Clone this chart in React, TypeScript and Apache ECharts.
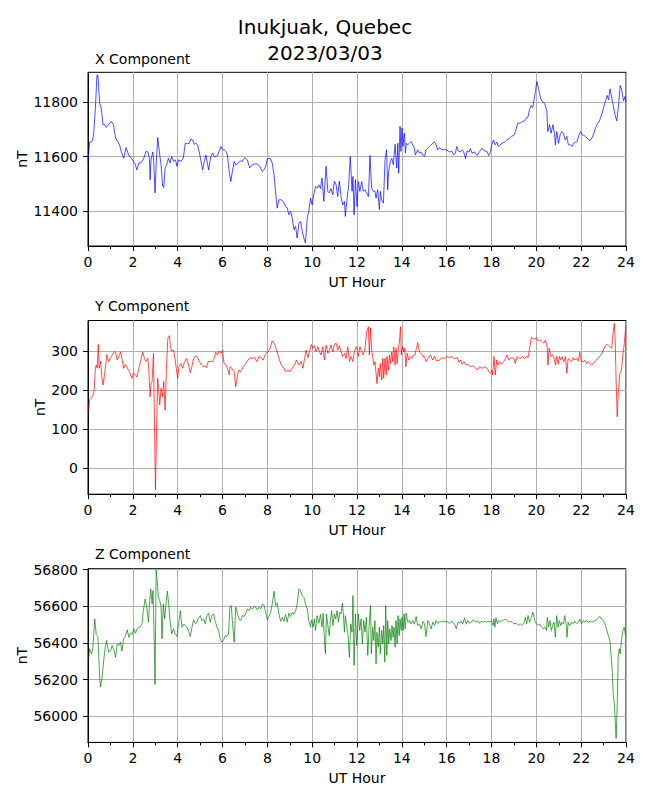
import React, { useEffect, useRef } from "react";
import * as echarts from "echarts";

const FONT = "DejaVu Sans";

const stationTitle = "Inukjuak, Quebec";
const dateTitle = "2023/03/03";
const panelTitles = ["X Component", "Y Component", "Z Component"];
const xAxisName = "UT Hour";
const yAxisName = "nT";
const hourTicks = [0, 2, 4, 6, 8, 10, 12, 14, 16, 18, 20, 22, 24];
const xTicks = [11400, 11600, 11800];
const yTicks = [0, 100, 200, 300];
const zTicks = [56000, 56200, 56400, 56600, 56800];
const xRange = [11271, 11910];
const yRange = [-66, 378];
const zRange = [55857, 56805];

// [UT hour, nT]
const xComponent: number[][] = [
  [0.00,11582],[0.07,11653],[0.18,11655],[0.25,11680],[0.33,11778],[0.40,11900],[0.44,11900],[0.52,11796],[0.59,11778],[0.67,11717],[0.74,11719],[0.81,11707],[0.92,11717],[1.04,11729],[1.14,11717],[1.23,11668],[1.33,11655],[1.41,11643],[1.48,11619],[1.59,11594],[1.70,11633],[1.81,11606],[1.93,11594],[2.03,11582],[2.10,11573],[2.18,11551],[2.27,11576],[2.37,11578],[2.49,11594],[2.59,11619],[2.67,11617],[2.74,11594],[2.77,11515],[2.81,11588],[2.89,11617],[2.93,11582],[2.99,11466],[3.04,11570],[3.11,11670],[3.19,11613],[3.26,11570],[3.33,11490],[3.38,11486],[3.44,11558],[3.51,11570],[3.59,11594],[3.66,11576],[3.73,11600],[3.82,11582],[3.90,11588],[3.97,11564],[4.04,11588],[4.15,11582],[4.25,11594],[4.34,11649],[4.44,11647],[4.52,11649],[4.59,11665],[4.67,11661],[4.74,11645],[4.81,11649],[4.89,11643],[4.99,11606],[5.11,11551],[5.19,11582],[5.26,11606],[5.38,11551],[5.48,11600],[5.56,11613],[5.63,11600],[5.70,11600],[5.78,11604],[5.85,11619],[5.93,11637],[6.00,11625],[6.07,11625],[6.15,11619],[6.22,11606],[6.30,11545],[6.37,11508],[6.44,11545],[6.52,11582],[6.59,11570],[6.67,11573],[6.74,11580],[6.81,11584],[6.89,11582],[6.99,11596],[7.11,11588],[7.21,11558],[7.33,11570],[7.44,11573],[7.56,11573],[7.66,11564],[7.78,11545],[7.85,11551],[7.93,11564],[8.00,11592],[8.12,11594],[8.22,11576],[8.30,11533],[8.37,11466],[8.44,11410],[8.52,11441],[8.62,11441],[8.71,11435],[8.81,11416],[8.89,11410],[8.96,11386],[9.04,11398],[9.11,11374],[9.19,11331],[9.26,11343],[9.33,11300],[9.41,11355],[9.48,11361],[9.56,11325],[9.63,11300],[9.70,11282],[9.78,11374],[9.85,11398],[9.93,11447],[10.00,11422],[10.07,11459],[10.15,11490],[10.22,11484],[10.30,11496],[10.37,11482],[10.44,11521],[10.52,11435],[10.62,11564],[10.70,11472],[10.77,11466],[10.84,11482],[10.92,11459],[10.99,11509],[11.07,11496],[11.14,11453],[11.21,11509],[11.29,11453],[11.36,11422],[11.44,11435],[11.48,11380],[11.56,11447],[11.63,11496],[11.70,11600],[11.78,11472],[11.82,11527],[11.87,11386],[11.93,11515],
  [12.00,11416],[12.06,11508],[12.13,11472],[12.21,11508],[12.28,11472],[12.36,11478],[12.43,11466],[12.51,11453],[12.58,11604],[12.65,11484],[12.73,11472],[12.80,11472],[12.85,11447],[12.92,11478],[13.00,11405],[13.04,11472],[13.10,11441],[13.18,11429],[13.25,11588],[13.32,11625],[13.37,11478],[13.41,11545],[13.49,11582],[13.55,11594],[13.62,11570],[13.70,11645],[13.77,11558],[13.82,11649],[13.86,11539],[13.92,11711],[13.96,11619],[14.01,11705],[14.05,11637],[14.11,11686],[14.16,11613],[14.20,11649],[14.26,11643],[14.34,11649],[14.41,11655],[14.49,11643],[14.56,11631],[14.60,11606],[14.71,11625],[14.78,11613],[14.86,11617],[14.93,11606],[15.01,11600],[15.08,11625],[15.15,11631],[15.23,11637],[15.30,11643],[15.38,11649],[15.45,11655],[15.53,11643],[15.60,11625],[15.68,11633],[15.78,11625],[15.90,11625],[16.00,11625],[16.12,11617],[16.23,11619],[16.32,11606],[16.39,11613],[16.45,11637],[16.52,11621],[16.61,11617],[16.69,11625],[16.76,11617],[16.84,11592],[16.91,11621],[16.99,11617],[17.06,11629],[17.13,11613],[17.24,11617],[17.36,11604],[17.46,11617],[17.57,11631],[17.68,11621],[17.79,11619],[17.88,11604],[17.95,11617],[18.01,11643],[18.09,11661],[18.16,11643],[18.24,11653],[18.31,11637],[18.38,11643],[18.47,11649],[18.58,11653],[18.68,11661],[18.77,11665],[18.88,11674],[19.00,11678],[19.07,11692],[19.17,11723],[19.28,11723],[19.37,11729],[19.47,11731],[19.54,11741],[19.62,11744],[19.69,11772],[19.77,11788],[19.84,11780],[19.88,11802],[19.96,11839],[20.02,11876],[20.10,11851],[20.17,11821],[20.24,11805],[20.32,11800],[20.39,11790],[20.47,11766],[20.51,11692],[20.59,11717],[20.66,11686],[20.74,11717],[20.81,11686],[20.85,11643],[20.91,11692],[20.99,11649],[21.06,11680],[21.14,11692],[21.21,11686],[21.29,11661],[21.36,11674],[21.43,11643],[21.52,11643],[21.60,11637],[21.67,11649],[21.75,11653],[21.82,11655],[21.90,11680],[21.97,11692],[22.04,11680],[22.12,11678],[22.19,11674],[22.30,11665],[22.40,11658],[22.49,11670],[22.57,11686],[22.64,11705],[22.71,11719],[22.79,11727],[22.86,11741],[22.94,11760],[23.01,11784],[23.09,11805],[23.16,11825],[23.22,11809],[23.29,11849],[23.37,11813],[23.44,11784],[23.51,11753],[23.59,11731],[23.67,11790],[23.74,11861],[23.81,11845],[23.89,11805],[23.96,11821],[24.00,11800]
];

const yComponent: number[][] = [
  [0.03,149],[0.07,175],[0.15,180],[0.22,187],[0.27,196],[0.33,256],[0.37,264],[0.41,256],[0.46,317],[0.50,256],[0.56,274],[0.62,234],[0.67,213],[0.74,239],[0.84,291],[0.92,273],[1.04,286],[1.16,298],[1.23,297],[1.30,277],[1.38,286],[1.45,298],[1.51,281],[1.59,256],[1.66,266],[1.75,257],[1.85,247],[1.96,230],[2.03,243],[2.10,240],[2.18,234],[2.25,251],[2.34,273],[2.44,297],[2.52,281],[2.59,273],[2.67,281],[2.71,256],[2.77,183],[2.81,217],[2.86,222],[2.92,294],[2.96,136],[3.01,-55],[3.05,77],[3.11,230],[3.16,196],[3.20,162],[3.26,205],[3.32,183],[3.38,222],[3.44,149],[3.50,256],[3.56,332],[3.63,339],[3.67,315],[3.73,300],[3.82,302],[3.88,281],[3.94,256],[4.00,230],[4.06,260],[4.15,268],[4.22,256],[4.30,271],[4.39,281],[4.47,268],[4.56,245],[4.62,257],[4.71,281],[4.81,288],[4.89,283],[4.96,274],[5.04,266],[5.13,260],[5.21,262],[5.29,257],[5.36,273],[5.45,274],[5.56,273],[5.63,281],[5.70,297],[5.78,290],[5.85,300],[5.93,294],[6.00,302],[6.07,268],[6.15,264],[6.22,256],[6.30,239],[6.34,260],[6.41,256],[6.52,247],[6.59,209],[6.67,239],[6.74,251],[6.81,247],[6.93,260],[7.04,268],[7.14,277],[7.23,283],[7.33,281],[7.44,283],[7.53,273],[7.63,286],[7.73,281],[7.82,277],[7.93,294],[8.03,298],[8.12,307],[8.22,326],[8.33,317],[8.41,302],[8.52,281],[8.62,264],[8.74,256],[8.81,247],[8.92,251],[9.01,247],[9.11,256],[9.21,264],[9.30,277],[9.41,264],[9.51,273],[9.59,256],[9.66,281],[9.73,302],[9.81,283],[9.88,298],[9.96,317],[10.03,307],[10.10,314],[10.18,298],[10.25,311],[10.33,298],[10.40,290],[10.47,311],[10.55,277],[10.62,315],[10.70,294],[10.77,302],[10.84,315],[10.92,298],[10.99,317],[11.07,320],[11.14,302],[11.21,314],[11.29,298],[11.36,286],[11.44,294],[11.51,281],[11.59,311],[11.66,273],[11.73,286],[11.81,273],[11.88,298],[11.96,311],
  [12.00,307],[12.06,286],[12.13,311],[12.21,298],[12.28,290],[12.36,307],[12.43,349],[12.51,362],[12.55,290],[12.60,359],[12.66,298],[12.70,286],[12.75,264],[12.80,273],[12.85,243],[12.89,217],[12.95,256],[13.00,234],[13.04,268],[13.10,226],[13.15,281],[13.19,230],[13.25,281],[13.30,239],[13.34,286],[13.40,251],[13.45,290],[13.49,268],[13.55,298],[13.59,273],[13.64,311],[13.70,264],[13.74,307],[13.79,268],[13.85,311],[13.89,320],[13.94,362],[13.98,290],[14.03,311],[14.09,298],[14.13,307],[14.18,260],[14.24,294],[14.30,277],[14.37,286],[14.44,281],[14.52,290],[14.59,290],[14.65,307],[14.71,322],[14.79,298],[14.86,294],[14.94,286],[15.01,286],[15.08,273],[15.16,281],[15.28,290],[15.38,277],[15.46,286],[15.56,274],[15.68,277],[15.79,283],[15.90,281],[16.01,286],[16.13,283],[16.23,286],[16.32,281],[16.40,281],[16.47,283],[16.55,271],[16.62,277],[16.69,266],[16.77,273],[16.87,264],[16.95,266],[17.05,260],[17.17,262],[17.28,257],[17.37,251],[17.47,260],[17.59,256],[17.69,260],[17.80,256],[17.89,247],[17.96,243],[18.02,251],[18.05,239],[18.11,286],[18.17,239],[18.23,277],[18.29,264],[18.36,273],[18.44,266],[18.54,273],[18.63,281],[18.69,290],[18.77,277],[18.84,281],[18.92,283],[19.01,280],[19.06,268],[19.14,286],[19.21,283],[19.29,280],[19.38,286],[19.48,281],[19.56,286],[19.63,283],[19.70,307],[19.78,334],[19.85,332],[19.93,330],[20.00,334],[20.08,326],[20.18,328],[20.26,324],[20.33,320],[20.41,328],[20.48,311],[20.52,264],[20.57,307],[20.64,286],[20.72,290],[20.79,283],[20.85,264],[20.91,286],[20.97,266],[21.03,286],[21.09,277],[21.15,286],[21.23,273],[21.30,286],[21.36,243],[21.42,281],[21.49,277],[21.57,273],[21.64,283],[21.72,277],[21.79,281],[21.87,274],[21.94,297],[22.01,273],[22.09,273],[22.16,277],[22.24,268],[22.31,273],[22.39,268],[22.46,264],[22.54,268],[22.61,273],[22.69,277],[22.76,283],[22.84,286],[22.91,292],[22.98,302],[23.06,311],[23.13,317],[23.21,315],[23.28,311],[23.36,307],[23.43,349],[23.48,371],[23.52,324],[23.56,222],[23.61,132],[23.65,187],[23.73,243],[23.80,251],[23.85,286],[23.91,311],[23.99,362]
];

const zComponent: number[][] = [
  [0.03,56313],[0.07,56368],[0.15,56341],[0.22,56373],[0.30,56531],[0.37,56446],[0.44,56435],[0.52,56214],[0.56,56159],[0.62,56205],[0.70,56304],[0.77,56377],[0.83,56413],[0.92,56350],[1.01,56359],[1.08,56386],[1.16,56359],[1.23,56322],[1.30,56395],[1.38,56386],[1.45,56404],[1.51,56355],[1.59,56422],[1.66,56435],[1.75,56471],[1.82,56431],[1.90,56453],[1.97,56446],[2.04,56477],[2.12,56453],[2.19,56477],[2.27,56486],[2.34,56489],[2.41,56504],[2.47,56576],[2.55,56640],[2.62,56595],[2.70,56513],[2.74,56613],[2.80,56694],[2.86,56613],[2.90,56685],[2.95,56431],[2.99,56174],[3.04,56798],[3.08,56749],[3.14,56649],[3.20,56631],[3.26,56595],[3.30,56422],[3.36,56613],[3.42,56531],[3.48,56613],[3.54,56682],[3.60,56613],[3.66,56522],[3.73,56449],[3.81,56477],[3.88,56453],[3.97,56435],[4.04,56504],[4.12,56576],[4.19,56486],[4.27,56504],[4.34,56495],[4.41,56486],[4.49,56464],[4.56,56435],[4.64,56486],[4.71,56526],[4.79,56504],[4.86,56513],[4.93,56537],[5.01,56549],[5.08,56522],[5.16,56531],[5.23,56504],[5.30,56549],[5.38,56562],[5.45,56513],[5.53,56549],[5.60,56558],[5.67,56522],[5.75,56486],[5.82,56468],[5.90,56422],[5.97,56404],[6.04,56413],[6.12,56440],[6.19,56435],[6.27,56449],[6.33,56595],[6.39,56604],[6.44,56522],[6.52,56404],[6.59,56595],[6.67,56558],[6.74,56531],[6.81,56522],[6.89,56549],[6.96,56544],[7.04,56562],[7.11,56585],[7.19,56576],[7.26,56595],[7.33,56585],[7.41,56598],[7.48,56595],[7.56,56580],[7.63,56595],[7.70,56585],[7.78,56613],[7.85,56604],[7.93,56567],[8.00,56526],[8.07,56544],[8.15,56567],[8.22,56613],[8.30,56682],[8.37,56604],[8.44,56616],[8.52,56558],[8.59,56518],[8.67,56540],[8.74,56518],[8.81,56555],[8.89,56513],[8.96,56562],[9.04,56544],[9.11,56567],[9.19,56558],[9.26,56573],[9.33,56613],[9.41,56694],[9.48,56685],[9.56,56658],[9.63,56649],[9.70,56613],[9.78,56585],[9.85,56522],[9.93,56486],[9.97,56526],[10.04,56486],[10.10,56531],[10.15,56468],[10.22,56549],[10.30,56507],[10.37,56555],[10.44,56486],[10.49,56562],[10.55,56413],[10.59,56341],[10.64,56558],[10.70,56495],[10.76,56440],[10.81,56522],[10.87,56576],[10.93,56495],[10.99,56558],[11.05,56531],[11.11,56576],[11.17,56513],[11.23,56567],[11.29,56558],[11.35,56616],[11.39,56558],[11.44,56458],[11.48,56549],[11.54,56495],[11.60,56440],[11.66,56322],[11.72,56504],[11.78,56458],[11.82,56658],[11.87,56277],[11.93,56558],[11.99,56386],
  [12.06,56558],[12.12,56468],[12.18,56531],[12.24,56395],[12.30,56522],[12.36,56458],[12.42,56540],[12.48,56332],[12.54,56486],[12.60,56604],[12.64,56341],[12.70,56486],[12.75,56413],[12.80,56522],[12.85,56286],[12.89,56458],[12.95,56377],[13.00,56486],[13.04,56341],[13.10,56468],[13.15,56395],[13.19,56495],[13.24,56295],[13.28,56604],[13.33,56332],[13.37,56522],[13.42,56395],[13.46,56477],[13.52,56413],[13.56,56495],[13.61,56431],[13.65,56486],[13.70,56377],[13.74,56522],[13.79,56395],[13.83,56549],[13.88,56440],[13.92,56531],[13.97,56468],[14.01,56540],[14.06,56468],[14.10,56558],[14.15,56477],[14.19,56562],[14.27,56513],[14.34,56522],[14.41,56504],[14.49,56522],[14.56,56502],[14.64,56544],[14.71,56495],[14.79,56502],[14.86,56477],[14.94,56518],[15.01,56504],[15.08,56435],[15.16,56522],[15.23,56504],[15.31,56477],[15.38,56513],[15.46,56495],[15.53,56522],[15.61,56507],[15.68,56518],[15.76,56513],[15.83,56522],[15.90,56513],[15.98,56518],[16.05,56513],[16.13,56507],[16.20,56518],[16.28,56513],[16.35,56504],[16.43,56477],[16.50,56513],[16.58,56507],[16.65,56518],[16.72,56504],[16.80,56537],[16.87,56502],[16.95,56522],[17.02,56507],[17.10,56513],[17.17,56526],[17.25,56518],[17.32,56513],[17.39,56522],[17.47,56507],[17.54,56518],[17.62,56513],[17.69,56518],[17.77,56513],[17.84,56518],[17.92,56513],[17.99,56522],[18.07,56495],[18.11,56531],[18.15,56486],[18.20,56537],[18.26,56504],[18.32,56522],[18.39,56513],[18.47,56522],[18.54,56526],[18.62,56531],[18.69,56522],[18.77,56513],[18.84,56518],[18.92,56513],[18.99,56504],[19.06,56507],[19.14,56504],[19.21,56495],[19.29,56504],[19.36,56495],[19.44,56504],[19.51,56540],[19.57,56504],[19.63,56549],[19.70,56513],[19.78,56540],[19.85,56567],[19.93,56522],[20.00,56504],[20.08,56495],[20.15,56504],[20.23,56486],[20.30,56477],[20.38,56486],[20.45,56468],[20.49,56540],[20.55,56486],[20.61,56522],[20.67,56468],[20.73,56495],[20.79,56513],[20.85,56431],[20.91,56549],[20.97,56486],[21.03,56522],[21.09,56495],[21.15,56513],[21.21,56504],[21.27,56549],[21.33,56504],[21.37,56431],[21.42,56513],[21.49,56495],[21.57,56513],[21.64,56504],[21.72,56518],[21.79,56504],[21.87,56513],[21.94,56531],[22.01,56504],[22.09,56522],[22.16,56513],[22.24,56522],[22.31,56513],[22.39,56518],[22.46,56513],[22.54,56517],[22.61,56522],[22.69,56526],[22.76,56537],[22.83,56544],[22.91,56531],[22.98,56522],[23.06,56504],[23.13,56477],[23.21,56440],[23.28,56413],[23.33,56341],[23.39,56241],[23.43,56123],[23.48,56069],[23.52,55978],[23.56,55878],[23.61,56069],[23.65,56322],[23.70,56368],[23.74,56341],[23.80,56413],[23.86,56468],[23.92,56486],[23.98,56440]
];

const seriesData = [xComponent, yComponent, zComponent];
const seriesColors = ["#0000ff", "#ff0000", "#008000"];
const seriesTicks = [xTicks, yTicks, zTicks];
const seriesRanges = [xRange, yRange, zRange];

const PANEL_TOPS = [72.3, 320.5, 568.7];
const PANEL_H = 173.7;
const TITLE_TOPS = [52, 298.6, 547];
const NAME_GAPS = [59, 41, 59];

export default function App() {
  const ref = useRef<HTMLDivElement>(null);
  useEffect(() => {
    if (!ref.current) return;
    const chart = echarts.init(ref.current, null, { renderer: "svg" });
    const txt = { fontFamily: FONT, color: "#000", fontWeight: "normal" as const };
    const option: any = {
      animation: false,
      backgroundColor: "#fff",
      textStyle: { fontFamily: FONT },
      title: [
        {
          text: stationTitle + "\n" + dateTitle,
          left: 325,
          top: 14,
          textAlign: "center",
          padding: 0,
          textStyle: { ...txt, fontSize: 20, lineHeight: 26 },
        },
        ...panelTitles.map((t, i) => ({
          text: t,
          left: 95,
          top: TITLE_TOPS[i],
          padding: 0,
          textStyle: { ...txt, fontSize: 14, lineHeight: 14 },
        })),
      ],
      grid: PANEL_TOPS.map((top) => ({
        left: 88,
        width: 538,
        top,
        height: PANEL_H,
        show: true,
        borderColor: "#000",
        borderWidth: 1,
        backgroundColor: "transparent",
        containLabel: false,
        outerBoundsMode: "none",
      })),
      xAxis: PANEL_TOPS.map((_, i) => ({
        gridIndex: i,
        type: "value",
        min: hourTicks[0],
        max: hourTicks[hourTicks.length - 1],
        interval: 2,
        name: xAxisName,
        nameLocation: "middle",
        nameGap: 29,
        nameMoveOverlap: false,
        nameTextStyle: { ...txt, fontSize: 14 },
        axisLine: { show: true, onZero: false, lineStyle: { color: "#000", width: 1 } },
        axisTick: { show: true, inside: false, length: 5, lineStyle: { color: "#000", width: 1 } },
        minorTick: { show: true, splitNumber: 2, length: 3, lineStyle: { color: "#000", width: 1 } },
        minorSplitLine: { show: false },
        axisLabel: { ...txt, fontSize: 14, margin: 9, formatter: (v: number) => String(v) },
        splitLine: { show: true, lineStyle: { color: "#b0b0b0", width: 1 } },
      })),
      yAxis: PANEL_TOPS.map((_, i) => ({
        gridIndex: i,
        type: "value",
        min: seriesRanges[i][0],
        max: seriesRanges[i][1],
        name: yAxisName,
        nameLocation: "middle",
        nameGap: NAME_GAPS[i],
        nameMoveOverlap: false,
        nameTextStyle: { ...txt, fontSize: 14 },
        axisLine: { show: true, onZero: false, lineStyle: { color: "#000", width: 1 } },
        axisTick: {
          show: true,
          inside: false,
          length: 5,
          customValues: seriesTicks[i],
          lineStyle: { color: "#000", width: 1 },
        },
        axisLabel: {
          ...txt,
          fontSize: 14,
          margin: 10,
          customValues: seriesTicks[i],
          formatter: (v: number) => String(v),
        },
        splitLine: { show: true, lineStyle: { color: "#b0b0b0", width: 1 } },
      })),
      series: seriesData.map((d, i) => ({
        type: "line",
        xAxisIndex: i,
        yAxisIndex: i,
        data: d,
        showSymbol: false,
        symbol: "none",
        clip: true,
        lineStyle: { color: seriesColors[i], width: 0.7 },
        itemStyle: { color: seriesColors[i] },
        emphasis: { disabled: true },
      })),
    };
    chart.setOption(option);
    return () => chart.dispose();
  }, []);
  return (
    <div
      ref={ref}
      style={{ position: "absolute", left: 0, top: 0, width: 650, height: 800, background: "#fff" }}
    />
  );
}
